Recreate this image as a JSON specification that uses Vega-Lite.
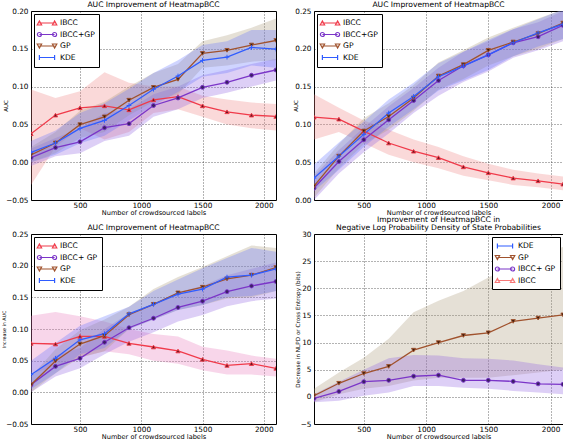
{
  "$schema": "https://vega.github.io/schema/vega-lite/v6.json",
  "padding": {"left": 0, "top": 0, "right": 0, "bottom": 0},
  "background": "white",
  "bounds": "flush",
  "columns": 2,
  "spacing": {"row": 34, "column": 38},
  "config": {
    "font": "DejaVu Sans",
    "view": {"stroke": "black", "strokeWidth": 1},
    "axis": {"domain": false, "ticks": false, "tickSize": 0, "grid": true, "gridColor": "black", "gridDash": [1, 2], "gridOpacity": 0.75, "gridWidth": 0.8, "labelFontSize": 7.3, "labelColor": "black", "labelPadding": 3, "titleFontSize": 6.6, "titleFontWeight": "normal", "titleColor": "black", "titlePadding": 1},
    "axisX": {"labelPadding": 1, "titlePadding": 1, "format": "d"},
    "title": {"fontSize": 7.6, "fontWeight": "normal", "offset": -2, "color": "black", "lineHeight": 8.5},
    "legend": {"strokeColor": "black", "fillColor": "white", "padding": 4, "cornerRadius": 0, "labelFontSize": 7.6, "labelColor": "black", "symbolSize": 64, "symbolOffset": 4, "labelOffset": 8, "rowPadding": 1.5, "symbolStrokeWidth": 1.2, "symbolOpacity": 1, "offset": 3}
  },
  "datasets": {
    "p1": [
      {"s": "IBCC", "x": 100, "y": 0.0377, "lo": -0.03, "hi": 0.096},
      {"s": "IBCC", "x": 300, "y": 0.0623, "lo": 0.02, "hi": 0.085},
      {"s": "IBCC", "x": 500, "y": 0.072, "lo": 0.045, "hi": 0.094},
      {"s": "IBCC", "x": 700, "y": 0.0746, "lo": 0.03, "hi": 0.119},
      {"s": "IBCC", "x": 900, "y": 0.0693, "lo": 0.04, "hi": 0.105},
      {"s": "IBCC", "x": 1100, "y": 0.0825, "lo": 0.065, "hi": 0.1},
      {"s": "IBCC", "x": 1300, "y": 0.0868, "lo": 0.07, "hi": 0.1},
      {"s": "IBCC", "x": 1500, "y": 0.0746, "lo": 0.06, "hi": 0.088},
      {"s": "IBCC", "x": 1700, "y": 0.0667, "lo": 0.05, "hi": 0.083},
      {"s": "IBCC", "x": 1900, "y": 0.0623, "lo": 0.045, "hi": 0.079},
      {"s": "IBCC", "x": 2100, "y": 0.0605, "lo": 0.042, "hi": 0.077},
      {"s": "IBCC+GP", "x": 100, "y": 0.006, "lo": -0.005, "hi": 0.018},
      {"s": "IBCC+GP", "x": 300, "y": 0.0193, "lo": 0.008, "hi": 0.032},
      {"s": "IBCC+GP", "x": 500, "y": 0.027, "lo": 0.012, "hi": 0.045},
      {"s": "IBCC+GP", "x": 700, "y": 0.0456, "lo": 0.028, "hi": 0.065},
      {"s": "IBCC+GP", "x": 900, "y": 0.051, "lo": 0.035, "hi": 0.07},
      {"s": "IBCC+GP", "x": 1100, "y": 0.075, "lo": 0.06, "hi": 0.09},
      {"s": "IBCC+GP", "x": 1300, "y": 0.085, "lo": 0.07, "hi": 0.1},
      {"s": "IBCC+GP", "x": 1500, "y": 0.099, "lo": 0.085, "hi": 0.115},
      {"s": "IBCC+GP", "x": 1700, "y": 0.1057, "lo": 0.092, "hi": 0.122},
      {"s": "IBCC+GP", "x": 1900, "y": 0.115, "lo": 0.1, "hi": 0.13},
      {"s": "IBCC+GP", "x": 2100, "y": 0.122, "lo": 0.108, "hi": 0.137},
      {"s": "GP", "x": 100, "y": 0.0096, "lo": 0.0, "hi": 0.02},
      {"s": "GP", "x": 300, "y": 0.0254, "lo": 0.012, "hi": 0.04},
      {"s": "GP", "x": 500, "y": 0.0496, "lo": 0.032, "hi": 0.068},
      {"s": "GP", "x": 700, "y": 0.06, "lo": 0.04, "hi": 0.08},
      {"s": "GP", "x": 900, "y": 0.082, "lo": 0.062, "hi": 0.1},
      {"s": "GP", "x": 1100, "y": 0.099, "lo": 0.08, "hi": 0.118},
      {"s": "GP", "x": 1300, "y": 0.1096, "lo": 0.09, "hi": 0.13},
      {"s": "GP", "x": 1500, "y": 0.1439, "lo": 0.125, "hi": 0.16},
      {"s": "GP", "x": 1700, "y": 0.148, "lo": 0.128, "hi": 0.168},
      {"s": "GP", "x": 1900, "y": 0.155, "lo": 0.133, "hi": 0.178},
      {"s": "GP", "x": 2100, "y": 0.161, "lo": 0.135, "hi": 0.19},
      {"s": "KDE", "x": 100, "y": 0.013, "lo": 0.0, "hi": 0.028},
      {"s": "KDE", "x": 300, "y": 0.0254, "lo": 0.01, "hi": 0.042},
      {"s": "KDE", "x": 500, "y": 0.0447, "lo": 0.025, "hi": 0.065},
      {"s": "KDE", "x": 700, "y": 0.0553, "lo": 0.035, "hi": 0.078},
      {"s": "KDE", "x": 900, "y": 0.075, "lo": 0.055, "hi": 0.097},
      {"s": "KDE", "x": 1100, "y": 0.0965, "lo": 0.075, "hi": 0.118},
      {"s": "KDE", "x": 1300, "y": 0.114, "lo": 0.093, "hi": 0.135},
      {"s": "KDE", "x": 1500, "y": 0.1346, "lo": 0.113, "hi": 0.155},
      {"s": "KDE", "x": 1700, "y": 0.139, "lo": 0.118, "hi": 0.16},
      {"s": "KDE", "x": 1900, "y": 0.1518, "lo": 0.128, "hi": 0.175},
      {"s": "KDE", "x": 2100, "y": 0.1496, "lo": 0.125, "hi": 0.175}
    ],
    "p2": [
      {"s": "IBCC", "x": 100, "y": 0.1096, "lo": 0.08, "hi": 0.14},
      {"s": "IBCC", "x": 300, "y": 0.107, "lo": 0.09, "hi": 0.122},
      {"s": "IBCC", "x": 500, "y": 0.0912, "lo": 0.075, "hi": 0.105},
      {"s": "IBCC", "x": 700, "y": 0.0754, "lo": 0.06, "hi": 0.093},
      {"s": "IBCC", "x": 900, "y": 0.0645, "lo": 0.05, "hi": 0.08},
      {"s": "IBCC", "x": 1100, "y": 0.0561, "lo": 0.042, "hi": 0.07},
      {"s": "IBCC", "x": 1300, "y": 0.0439, "lo": 0.032, "hi": 0.058},
      {"s": "IBCC", "x": 1500, "y": 0.036, "lo": 0.026, "hi": 0.048},
      {"s": "IBCC", "x": 1700, "y": 0.029, "lo": 0.02, "hi": 0.04},
      {"s": "IBCC", "x": 1900, "y": 0.0254, "lo": 0.017, "hi": 0.035},
      {"s": "IBCC", "x": 2100, "y": 0.021, "lo": 0.013, "hi": 0.031},
      {"s": "IBCC+GP", "x": 100, "y": 0.0158, "lo": 0.0, "hi": 0.032},
      {"s": "IBCC+GP", "x": 300, "y": 0.0509, "lo": 0.035, "hi": 0.066},
      {"s": "IBCC+GP", "x": 500, "y": 0.0798, "lo": 0.063, "hi": 0.096},
      {"s": "IBCC+GP", "x": 700, "y": 0.106, "lo": 0.088, "hi": 0.124},
      {"s": "IBCC+GP", "x": 900, "y": 0.1316, "lo": 0.115, "hi": 0.148},
      {"s": "IBCC+GP", "x": 1100, "y": 0.158, "lo": 0.138, "hi": 0.175},
      {"s": "IBCC+GP", "x": 1300, "y": 0.1776, "lo": 0.156, "hi": 0.196},
      {"s": "IBCC+GP", "x": 1500, "y": 0.192, "lo": 0.17, "hi": 0.21},
      {"s": "IBCC+GP", "x": 1700, "y": 0.208, "lo": 0.188, "hi": 0.226},
      {"s": "IBCC+GP", "x": 1900, "y": 0.216, "lo": 0.198, "hi": 0.235},
      {"s": "IBCC+GP", "x": 2100, "y": 0.231, "lo": 0.21, "hi": 0.25},
      {"s": "GP", "x": 100, "y": 0.0184, "lo": 0.003, "hi": 0.035},
      {"s": "GP", "x": 300, "y": 0.058, "lo": 0.042, "hi": 0.074},
      {"s": "GP", "x": 500, "y": 0.0912, "lo": 0.074, "hi": 0.108},
      {"s": "GP", "x": 700, "y": 0.1105, "lo": 0.093, "hi": 0.128},
      {"s": "GP", "x": 900, "y": 0.135, "lo": 0.118, "hi": 0.152},
      {"s": "GP", "x": 1100, "y": 0.164, "lo": 0.146, "hi": 0.182},
      {"s": "GP", "x": 1300, "y": 0.179, "lo": 0.16, "hi": 0.198},
      {"s": "GP", "x": 1500, "y": 0.198, "lo": 0.178, "hi": 0.215},
      {"s": "GP", "x": 1700, "y": 0.209, "lo": 0.19, "hi": 0.228},
      {"s": "GP", "x": 1900, "y": 0.22, "lo": 0.2, "hi": 0.24},
      {"s": "GP", "x": 2100, "y": 0.234, "lo": 0.213, "hi": 0.252},
      {"s": "KDE", "x": 100, "y": 0.029, "lo": 0.012, "hi": 0.047},
      {"s": "KDE", "x": 300, "y": 0.058, "lo": 0.04, "hi": 0.076},
      {"s": "KDE", "x": 500, "y": 0.0868, "lo": 0.07, "hi": 0.104},
      {"s": "KDE", "x": 700, "y": 0.115, "lo": 0.097, "hi": 0.133},
      {"s": "KDE", "x": 900, "y": 0.137, "lo": 0.12, "hi": 0.155},
      {"s": "KDE", "x": 1100, "y": 0.163, "lo": 0.145, "hi": 0.181},
      {"s": "KDE", "x": 1300, "y": 0.177, "lo": 0.158, "hi": 0.196},
      {"s": "KDE", "x": 1500, "y": 0.192, "lo": 0.172, "hi": 0.212},
      {"s": "KDE", "x": 1700, "y": 0.208, "lo": 0.19, "hi": 0.226},
      {"s": "KDE", "x": 1900, "y": 0.221, "lo": 0.203, "hi": 0.239},
      {"s": "KDE", "x": 2100, "y": 0.2325, "lo": 0.213, "hi": 0.252}
    ],
    "p3": [
      {"s": "IBCC", "x": 100, "y": 0.0774, "lo": 0.03, "hi": 0.121},
      {"s": "IBCC", "x": 300, "y": 0.0763, "lo": 0.04, "hi": 0.127},
      {"s": "IBCC", "x": 500, "y": 0.0884, "lo": 0.055, "hi": 0.12},
      {"s": "IBCC", "x": 700, "y": 0.0884, "lo": 0.065, "hi": 0.112},
      {"s": "IBCC", "x": 900, "y": 0.0774, "lo": 0.06, "hi": 0.1},
      {"s": "IBCC", "x": 1100, "y": 0.0716, "lo": 0.05, "hi": 0.092},
      {"s": "IBCC", "x": 1300, "y": 0.0653, "lo": 0.045, "hi": 0.088},
      {"s": "IBCC", "x": 1500, "y": 0.0521, "lo": 0.035, "hi": 0.072},
      {"s": "IBCC", "x": 1700, "y": 0.0426, "lo": 0.028, "hi": 0.066},
      {"s": "IBCC", "x": 1900, "y": 0.0453, "lo": 0.028, "hi": 0.058},
      {"s": "IBCC", "x": 2100, "y": 0.0379, "lo": 0.025, "hi": 0.053},
      {"s": "IBCC+ GP", "x": 100, "y": 0.0121, "lo": 0.0, "hi": 0.025},
      {"s": "IBCC+ GP", "x": 300, "y": 0.041, "lo": 0.025, "hi": 0.058},
      {"s": "IBCC+ GP", "x": 500, "y": 0.0537, "lo": 0.038, "hi": 0.07},
      {"s": "IBCC+ GP", "x": 700, "y": 0.079, "lo": 0.06, "hi": 0.1},
      {"s": "IBCC+ GP", "x": 900, "y": 0.102, "lo": 0.08, "hi": 0.125},
      {"s": "IBCC+ GP", "x": 1100, "y": 0.117, "lo": 0.095, "hi": 0.14},
      {"s": "IBCC+ GP", "x": 1300, "y": 0.134, "lo": 0.112, "hi": 0.158},
      {"s": "IBCC+ GP", "x": 1500, "y": 0.144, "lo": 0.122, "hi": 0.168},
      {"s": "IBCC+ GP", "x": 1700, "y": 0.159, "lo": 0.136, "hi": 0.185},
      {"s": "IBCC+ GP", "x": 1900, "y": 0.168, "lo": 0.144, "hi": 0.195},
      {"s": "IBCC+ GP", "x": 2100, "y": 0.175, "lo": 0.148, "hi": 0.205},
      {"s": "GP", "x": 100, "y": 0.012, "lo": 0.0, "hi": 0.025},
      {"s": "GP", "x": 300, "y": 0.0495, "lo": 0.03, "hi": 0.068},
      {"s": "GP", "x": 500, "y": 0.0763, "lo": 0.055, "hi": 0.098},
      {"s": "GP", "x": 700, "y": 0.0895, "lo": 0.065, "hi": 0.115},
      {"s": "GP", "x": 900, "y": 0.1226, "lo": 0.1, "hi": 0.135},
      {"s": "GP", "x": 1100, "y": 0.139, "lo": 0.115, "hi": 0.163},
      {"s": "GP", "x": 1300, "y": 0.157, "lo": 0.13, "hi": 0.182},
      {"s": "GP", "x": 1500, "y": 0.166, "lo": 0.138, "hi": 0.198},
      {"s": "GP", "x": 1700, "y": 0.179, "lo": 0.148, "hi": 0.215},
      {"s": "GP", "x": 1900, "y": 0.185, "lo": 0.15, "hi": 0.232},
      {"s": "GP", "x": 2100, "y": 0.197, "lo": 0.16, "hi": 0.228},
      {"s": "KDE", "x": 100, "y": 0.0279, "lo": 0.005, "hi": 0.05},
      {"s": "KDE", "x": 300, "y": 0.0537, "lo": 0.03, "hi": 0.078},
      {"s": "KDE", "x": 500, "y": 0.083, "lo": 0.06, "hi": 0.105},
      {"s": "KDE", "x": 700, "y": 0.0926, "lo": 0.07, "hi": 0.12},
      {"s": "KDE", "x": 900, "y": 0.124, "lo": 0.1, "hi": 0.135},
      {"s": "KDE", "x": 1100, "y": 0.139, "lo": 0.115, "hi": 0.16},
      {"s": "KDE", "x": 1300, "y": 0.155, "lo": 0.13, "hi": 0.178},
      {"s": "KDE", "x": 1500, "y": 0.163, "lo": 0.138, "hi": 0.196},
      {"s": "KDE", "x": 1700, "y": 0.182, "lo": 0.15, "hi": 0.212},
      {"s": "KDE", "x": 1900, "y": 0.185, "lo": 0.152, "hi": 0.228},
      {"s": "KDE", "x": 2100, "y": 0.195, "lo": 0.16, "hi": 0.222}
    ],
    "p4": [
      {"s": "GP", "x": 100, "y": 0.2, "lo": -1, "hi": 1.5},
      {"s": "GP", "x": 300, "y": 2.5, "lo": 0.5, "hi": 4.5},
      {"s": "GP", "x": 500, "y": 4.3, "lo": 1.5, "hi": 7.2},
      {"s": "GP", "x": 700, "y": 5.6, "lo": 2, "hi": 10.7},
      {"s": "GP", "x": 900, "y": 8.6, "lo": 3, "hi": 15.6},
      {"s": "GP", "x": 1100, "y": 10.0, "lo": 3.5, "hi": 17.7},
      {"s": "GP", "x": 1300, "y": 11.3, "lo": 3.5, "hi": 19.5},
      {"s": "GP", "x": 1500, "y": 11.8, "lo": 3.5, "hi": 22},
      {"s": "GP", "x": 1700, "y": 13.9, "lo": 4, "hi": 24.2},
      {"s": "GP", "x": 1900, "y": 14.5, "lo": 4.5, "hi": 26.4},
      {"s": "GP", "x": 2100, "y": 15.1, "lo": 5, "hi": 27.6},
      {"s": "IBCC+ GP", "x": 100, "y": -0.3, "lo": -1.0, "hi": 0.5},
      {"s": "IBCC+ GP", "x": 300, "y": 1.0, "lo": -0.7, "hi": 2.8},
      {"s": "IBCC+ GP", "x": 500, "y": 2.8, "lo": 0.2, "hi": 5.0},
      {"s": "IBCC+ GP", "x": 700, "y": 3.05, "lo": 0.8, "hi": 7.1},
      {"s": "IBCC+ GP", "x": 900, "y": 3.8, "lo": 2, "hi": 7.7},
      {"s": "IBCC+ GP", "x": 1100, "y": 4.0, "lo": 2, "hi": 7.6},
      {"s": "IBCC+ GP", "x": 1300, "y": 3.05, "lo": 1.7, "hi": 7.1},
      {"s": "IBCC+ GP", "x": 1500, "y": 3.05, "lo": 1.5, "hi": 7.0},
      {"s": "IBCC+ GP", "x": 1700, "y": 2.85, "lo": 1.1, "hi": 6.7},
      {"s": "IBCC+ GP", "x": 1900, "y": 2.4, "lo": 0.8, "hi": 6.0},
      {"s": "IBCC+ GP", "x": 2100, "y": 2.3, "lo": 0.5, "hi": 5.4}
    ]
  },
  "concat": [
    {
      "width": 245, "height": 189,
      "title": "AUC Improvement of HeatmapBCC",
      "data": {"name": "p1"},
      "encoding": {
        "x": {"field": "x", "type": "quantitative", "scale": {"domain": [100, 2100], "nice": false, "zero": false}, "axis": {"values": [500, 1000, 1500, 2000], "title": "Number of crowdsourced labels"}},
        "y": {"field": "y", "type": "quantitative", "scale": {"domain": [-0.05, 0.2], "nice": false, "zero": false}, "axis": {"values": [-0.05, 0, 0.05, 0.1, 0.15, 0.2], "format": ".2f", "title": "AUC", "titleFontSize": 5.5, "titleX": -23}},
        "stroke": {"field": "s", "type": "nominal", "scale": {"domain": ["IBCC", "IBCC+GP", "GP", "KDE"], "range": ["#f03a4a", "#7b35c8", "#a0522d", "#2f5cff"]}, "legend": {"orient": "top-left", "title": null}}
      },
      "layer": [
        {"mark": {"type": "area", "opacity": 0.3, "clip": true},
         "encoding": {"y": {"field": "lo", "type": "quantitative"}, "y2": {"field": "hi"}, "stroke": {"value": null},
           "color": {"field": "s", "type": "nominal", "scale": {"domain": ["KDE", "GP", "IBCC+GP", "IBCC"], "range": ["#6070ff", "#a89878", "#9060e0", "#f08080"]}, "legend": null}}},
        {"mark": {"type": "line", "strokeWidth": 1.3, "clip": true}, "encoding": {}},
        {"mark": {"type": "point", "opacity": 0, "filled": false, "clip": true},
         "encoding": {"shape": {"field": "s", "type": "nominal", "scale": {"domain": ["IBCC", "IBCC+GP", "GP", "KDE"], "range": ["M-1.9,0H1.9M-2.45,0.5L-1.9,-0.5L-1.35,0.5ZM1.35,0.5L1.9,-0.5L2.45,0.5Z", "M-1.9,0H1.9M-2.4,0A0.5,0.5,0,1,0,-1.4,0A0.5,0.5,0,1,0,-2.4,0ZM1.4,0A0.5,0.5,0,1,0,2.4,0A0.5,0.5,0,1,0,1.4,0Z", "M-1.9,0H1.9M-2.45,-0.5L-1.9,0.5L-1.35,-0.5ZM1.35,-0.5L1.9,0.5L2.45,-0.5Z", "M-1.9,0H1.9M-1.9,-0.6V0.6M1.9,-0.6V0.6"]}, "legend": {"orient": "top-left", "title": null}}}},
        {"transform": [{"filter": "datum.s === 'IBCC'"}], "mark": {"type": "point", "shape": "triangle-up", "filled": true, "fill": "#6b1820", "size": 18, "strokeWidth": 0.9, "opacity": 1, "clip": true}, "encoding": {}},
        {"transform": [{"filter": "datum.s === 'IBCC+GP'"}], "mark": {"type": "point", "shape": "circle", "filled": true, "fill": "#3c1f66", "size": 16, "strokeWidth": 0.9, "opacity": 1, "clip": true}, "encoding": {}},
        {"transform": [{"filter": "datum.s === 'GP'"}], "mark": {"type": "point", "shape": "triangle-down", "filled": true, "fill": "#3d1c0c", "size": 18, "strokeWidth": 0.9, "opacity": 1, "clip": true}, "encoding": {}},
        {"transform": [{"filter": "datum.s === 'KDE'"}], "mark": {"type": "point", "shape": "M-1,0H1M0,-1V1", "filled": false, "size": 22, "strokeWidth": 1, "opacity": 1, "clip": true}, "encoding": {}}
      ]
    },
    {
      "width": 249, "height": 189,
      "title": "AUC Improvement of HeatmapBCC",
      "data": {"name": "p2"},
      "encoding": {
        "x": {"field": "x", "type": "quantitative", "scale": {"domain": [100, 2100], "nice": false, "zero": false}, "axis": {"values": [500, 1000, 1500, 2000], "title": "Number of crowdsourced labels"}},
        "y": {"field": "y", "type": "quantitative", "scale": {"domain": [0, 0.25], "nice": false, "zero": false}, "axis": {"values": [0, 0.05, 0.1, 0.15, 0.2, 0.25], "format": ".2f", "title": "AUC", "titleFontSize": 5.5, "titleX": -16}},
        "stroke": {"field": "s", "type": "nominal", "scale": {"domain": ["IBCC", "IBCC+GP", "GP", "KDE"], "range": ["#f03a4a", "#7b35c8", "#a0522d", "#2f5cff"]}, "legend": {"orient": "top-left", "title": null}}
      },
      "layer": [
        {"mark": {"type": "area", "opacity": 0.3, "clip": true},
         "encoding": {"y": {"field": "lo", "type": "quantitative"}, "y2": {"field": "hi"}, "stroke": {"value": null},
           "color": {"field": "s", "type": "nominal", "scale": {"domain": ["KDE", "GP", "IBCC+GP", "IBCC"], "range": ["#6070ff", "#a89878", "#9060e0", "#f08080"]}, "legend": null}}},
        {"mark": {"type": "line", "strokeWidth": 1.3, "clip": true}, "encoding": {}},
        {"mark": {"type": "point", "opacity": 0, "filled": false, "clip": true},
         "encoding": {"shape": {"field": "s", "type": "nominal", "scale": {"domain": ["IBCC", "IBCC+GP", "GP", "KDE"], "range": ["M-1.9,0H1.9M-2.45,0.5L-1.9,-0.5L-1.35,0.5ZM1.35,0.5L1.9,-0.5L2.45,0.5Z", "M-1.9,0H1.9M-2.4,0A0.5,0.5,0,1,0,-1.4,0A0.5,0.5,0,1,0,-2.4,0ZM1.4,0A0.5,0.5,0,1,0,2.4,0A0.5,0.5,0,1,0,1.4,0Z", "M-1.9,0H1.9M-2.45,-0.5L-1.9,0.5L-1.35,-0.5ZM1.35,-0.5L1.9,0.5L2.45,-0.5Z", "M-1.9,0H1.9M-1.9,-0.6V0.6M1.9,-0.6V0.6"]}, "legend": {"orient": "top-left", "title": null}}}},
        {"transform": [{"filter": "datum.s === 'IBCC'"}], "mark": {"type": "point", "shape": "triangle-up", "filled": true, "fill": "#6b1820", "size": 18, "strokeWidth": 0.9, "opacity": 1, "clip": true}, "encoding": {}},
        {"transform": [{"filter": "datum.s === 'IBCC+GP'"}], "mark": {"type": "point", "shape": "circle", "filled": true, "fill": "#3c1f66", "size": 16, "strokeWidth": 0.9, "opacity": 1, "clip": true}, "encoding": {}},
        {"transform": [{"filter": "datum.s === 'GP'"}], "mark": {"type": "point", "shape": "triangle-down", "filled": true, "fill": "#3d1c0c", "size": 18, "strokeWidth": 0.9, "opacity": 1, "clip": true}, "encoding": {}},
        {"transform": [{"filter": "datum.s === 'KDE'"}], "mark": {"type": "point", "shape": "M-1,0H1M0,-1V1", "filled": false, "size": 22, "strokeWidth": 1, "opacity": 1, "clip": true}, "encoding": {}}
      ]
    },
    {
      "width": 245, "height": 190,
      "title": "AUC Improvement of HeatmapBCC",
      "data": {"name": "p3"},
      "encoding": {
        "x": {"field": "x", "type": "quantitative", "scale": {"domain": [100, 2100], "nice": false, "zero": false}, "axis": {"values": [500, 1000, 1500, 2000], "title": "Number of crowdsourced labels"}},
        "y": {"field": "y", "type": "quantitative", "scale": {"domain": [-0.05, 0.25], "nice": false, "zero": false}, "axis": {"values": [-0.05, 0, 0.05, 0.1, 0.15, 0.2, 0.25], "format": ".2f", "title": "Increase in AUC", "titleFontSize": 4.8, "titleX": -25}},
        "stroke": {"field": "s", "type": "nominal", "scale": {"domain": ["IBCC", "IBCC+ GP", "GP", "KDE"], "range": ["#f03a4a", "#7b35c8", "#a0522d", "#2f5cff"]}, "legend": {"orient": "top-left", "title": null}}
      },
      "layer": [
        {"mark": {"type": "area", "opacity": 0.3, "clip": true},
         "encoding": {"y": {"field": "lo", "type": "quantitative"}, "y2": {"field": "hi"}, "stroke": {"value": null},
           "color": {"field": "s", "type": "nominal", "scale": {"domain": ["KDE", "GP", "IBCC+ GP", "IBCC"], "range": ["#6070ff", "#a89878", "#9060e0", "#e878b8"]}, "legend": null}}},
        {"mark": {"type": "line", "strokeWidth": 1.3, "clip": true}, "encoding": {}},
        {"mark": {"type": "point", "opacity": 0, "filled": false, "clip": true},
         "encoding": {"shape": {"field": "s", "type": "nominal", "scale": {"domain": ["IBCC", "IBCC+ GP", "GP", "KDE"], "range": ["M-1.9,0H1.9M-2.45,0.5L-1.9,-0.5L-1.35,0.5ZM1.35,0.5L1.9,-0.5L2.45,0.5Z", "M-1.9,0H1.9M-2.4,0A0.5,0.5,0,1,0,-1.4,0A0.5,0.5,0,1,0,-2.4,0ZM1.4,0A0.5,0.5,0,1,0,2.4,0A0.5,0.5,0,1,0,1.4,0Z", "M-1.9,0H1.9M-2.45,-0.5L-1.9,0.5L-1.35,-0.5ZM1.35,-0.5L1.9,0.5L2.45,-0.5Z", "M-1.9,0H1.9M-1.9,-0.6V0.6M1.9,-0.6V0.6"]}, "legend": {"orient": "top-left", "title": null}}}},
        {"transform": [{"filter": "datum.s === 'IBCC'"}], "mark": {"type": "point", "shape": "triangle-up", "filled": true, "fill": "#6b1820", "size": 18, "strokeWidth": 0.9, "opacity": 1, "clip": true}, "encoding": {}},
        {"transform": [{"filter": "datum.s === 'IBCC+ GP'"}], "mark": {"type": "point", "shape": "circle", "filled": true, "fill": "#3c1f66", "size": 16, "strokeWidth": 0.9, "opacity": 1, "clip": true}, "encoding": {}},
        {"transform": [{"filter": "datum.s === 'GP'"}], "mark": {"type": "point", "shape": "triangle-down", "filled": true, "fill": "#3d1c0c", "size": 18, "strokeWidth": 0.9, "opacity": 1, "clip": true}, "encoding": {}},
        {"transform": [{"filter": "datum.s === 'KDE'"}], "mark": {"type": "point", "shape": "M-1,0H1M0,-1V1", "filled": false, "size": 22, "strokeWidth": 1, "opacity": 1, "clip": true}, "encoding": {}}
      ]
    },
    {
      "width": 249, "height": 190,
      "title": {"text": ["Improvement of HeatmapBCC in", "Negative Log Probability Density of State Probabilities"]},
      "data": {"name": "p4"},
      "encoding": {
        "x": {"field": "x", "type": "quantitative", "scale": {"domain": [100, 2100], "nice": false, "zero": false}, "axis": {"values": [500, 1000, 1500, 2000], "title": "Number of crowdsourced labels"}},
        "y": {"field": "y", "type": "quantitative", "scale": {"domain": [-5, 30], "nice": false, "zero": false}, "axis": {"values": [-5, 0, 5, 10, 15, 20, 25, 30], "format": "d", "title": "Decrease in NLPD or Cross Entropy (bits)", "titleFontSize": 5.7, "titleX": -14}},
        "stroke": {"field": "s", "type": "nominal", "scale": {"domain": ["KDE", "GP", "IBCC+ GP", "IBCC"], "range": ["#2f5cff", "#a0522d", "#7b35c8", "#f87878"]}, "legend": {"orient": "top-right", "title": null}}
      },
      "layer": [
        {"mark": {"type": "area", "opacity": 0.3, "clip": true},
         "encoding": {"y": {"field": "lo", "type": "quantitative"}, "y2": {"field": "hi"}, "stroke": {"value": null},
           "color": {"field": "s", "type": "nominal", "scale": {"domain": ["IBCC", "IBCC+ GP", "GP", "KDE"], "range": ["#f08080", "#9060e0", "#a89878", "#6070ff"]}, "legend": null}}},
        {"mark": {"type": "line", "strokeWidth": 1.3, "clip": true}, "encoding": {}},
        {"mark": {"type": "point", "opacity": 0, "filled": false, "clip": true},
         "encoding": {"shape": {"field": "s", "type": "nominal", "scale": {"domain": ["KDE", "GP", "IBCC+ GP", "IBCC"], "range": ["M-1.9,0H1.9M-1.9,-0.6V0.6M1.9,-0.6V0.6", "M-1.9,0H1.9M-2.45,-0.5L-1.9,0.5L-1.35,-0.5ZM1.35,-0.5L1.9,0.5L2.45,-0.5Z", "M-1.9,0H1.9M-2.4,0A0.5,0.5,0,1,0,-1.4,0A0.5,0.5,0,1,0,-2.4,0ZM1.4,0A0.5,0.5,0,1,0,2.4,0A0.5,0.5,0,1,0,1.4,0Z", "M-1.9,0H1.9M-2.45,0.5L-1.9,-0.5L-1.35,0.5ZM1.35,0.5L1.9,-0.5L2.45,0.5Z"]}, "legend": {"orient": "top-right", "title": null}}}},
        {"transform": [{"filter": "datum.s === 'IBCC+ GP'"}], "mark": {"type": "point", "shape": "circle", "filled": true, "fill": "#3c1f66", "size": 16, "strokeWidth": 0.9, "opacity": 1, "clip": true}, "encoding": {}},
        {"transform": [{"filter": "datum.s === 'GP'"}], "mark": {"type": "point", "shape": "triangle-down", "filled": true, "fill": "#3d1c0c", "size": 18, "strokeWidth": 0.9, "opacity": 1, "clip": true}, "encoding": {}}
      ]
    }
  ],
  "resolve": {"scale": {"x": "independent", "y": "independent", "color": "independent", "stroke": "independent", "shape": "independent"}, "legend": {"stroke": "independent", "shape": "independent"}}
}
